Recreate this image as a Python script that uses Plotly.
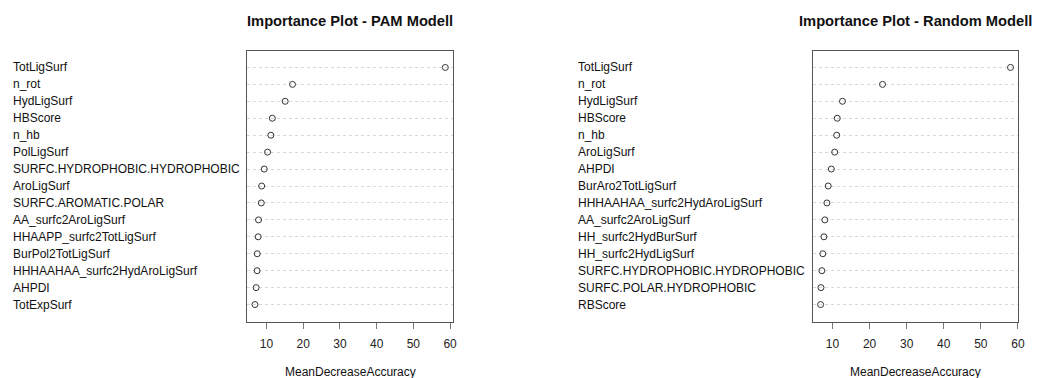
import plotly.graph_objects as go

# ---- data ----
pam_vars = ["TotLigSurf", "n_rot", "HydLigSurf", "HBScore", "n_hb", "PolLigSurf",
            "SURFC.HYDROPHOBIC.HYDROPHOBIC", "AroLigSurf", "SURFC.AROMATIC.POLAR",
            "AA_surfc2AroLigSurf", "HHAAPP_surfc2TotLigSurf", "BurPol2TotLigSurf",
            "HHHAAHAA_surfc2HydAroLigSurf", "AHPDI", "TotExpSurf"]
pam_vals = [58.7, 17.1, 15.1, 11.6, 11.2, 10.3, 9.4, 8.7, 8.6, 7.85, 7.75, 7.5, 7.45, 7.2, 6.87]

rnd_vars = ["TotLigSurf", "n_rot", "HydLigSurf", "HBScore", "n_hb", "AroLigSurf",
            "AHPDI", "BurAro2TotLigSurf", "HHHAAHAA_surfc2HydAroLigSurf",
            "AA_surfc2AroLigSurf", "HH_surfc2HydBurSurf", "HH_surfc2HydLigSurf",
            "SURFC.HYDROPHOBIC.HYDROPHOBIC", "SURFC.POLAR.HYDROPHOBIC", "RBScore"]
rnd_vals = [58.0, 23.5, 12.7, 11.3, 11.15, 10.6, 9.7, 8.85, 8.5, 7.95, 7.7, 7.4, 7.14, 6.9, 6.8]

titles = ["Importance Plot - PAM Modell", "Importance Plot - Random Modell"]
xlab = "MeanDecreaseAccuracy"
xticks = [10, 20, 30, 40, 50, 60]

W, H = 1040, 378
FONT = "Liberation Sans, Arial, Helvetica, sans-serif"

panels = [
    dict(vars=pam_vars, vals=pam_vals, dom=(249 / W, 456 / W), lab_x=11 / W),
    dict(vars=rnd_vars, vals=rnd_vals, dom=(818.5 / W, 1025 / W), lab_x=580 / W),
]
ydom = (1 - 321.5 / H, 1 - 50.5 / H)

fig = go.Figure()
annotations = []
for i, p in enumerate(panels):
    sfx = "" if i == 0 else "2"
    xa, ya = "x" + sfx, "y" + sfx
    fig.add_trace(go.Scatter(
        x=p["vals"], y=p["vars"], mode="markers", xaxis=xa, yaxis=ya,
        marker=dict(symbol="circle-open", size=6, color="#333333", line=dict(width=1)),
        showlegend=False, hoverinfo="x+y"))
    lo, hi = min(p["vals"]), max(p["vals"])
    ext = (hi - lo) * 0.04
    fig.layout["xaxis" + sfx] = dict(
        domain=p["dom"], anchor=ya, range=[lo - ext, hi + ext],
        tickvals=xticks, ticks="outside", ticklen=6, tickcolor="#777777",
        showgrid=False, zeroline=False, showline=True, mirror=True,
        linecolor="#555555", linewidth=1,
        tickfont=dict(family=FONT, size=12, color="#222222"), ticklabelstandoff=5)
    fig.layout["yaxis" + sfx] = dict(
        domain=ydom, anchor=xa, type="category",
        categoryorder="array", categoryarray=list(reversed(p["vars"])),
        range=[-1, len(p["vars"])], showticklabels=False, ticks="",
        showgrid=True, gridcolor="#d8d8d8", griddash="dot", gridwidth=1,
        zeroline=False, showline=True, mirror=True, linecolor="#555555", linewidth=1)
    for v in p["vars"]:
        annotations.append(dict(
            x=p["lab_x"], xref="paper", y=v, yref=ya, text=v, showarrow=False,
            xanchor="left", yanchor="middle",
            font=dict(family=FONT, size=12, color="#111111")))
    cx = (p["dom"][0] + p["dom"][1]) / 2
    annotations.append(dict(
        x=cx, xref="paper", y=1 - 21.5 / H, yref="paper", text="<b>" + titles[i] + "</b>",
        showarrow=False, xanchor="center", yanchor="middle",
        font=dict(family=FONT, size=14.7, color="#111111")))
    annotations.append(dict(
        x=cx, xref="paper", y=1 - 371.5 / H, yref="paper", text=xlab,
        showarrow=False, xanchor="center", yanchor="middle",
        font=dict(family=FONT, size=12, color="#111111")))

fig.update_layout(
    width=W, height=H, margin=dict(l=0, r=0, t=0, b=0),
    paper_bgcolor="white", plot_bgcolor="white",
    annotations=annotations, showlegend=False)

fig.write_html("out.html", config={"displayModeBar": False},
               post_script="document.body.style.margin='0';document.body.style.overflow='hidden';")
